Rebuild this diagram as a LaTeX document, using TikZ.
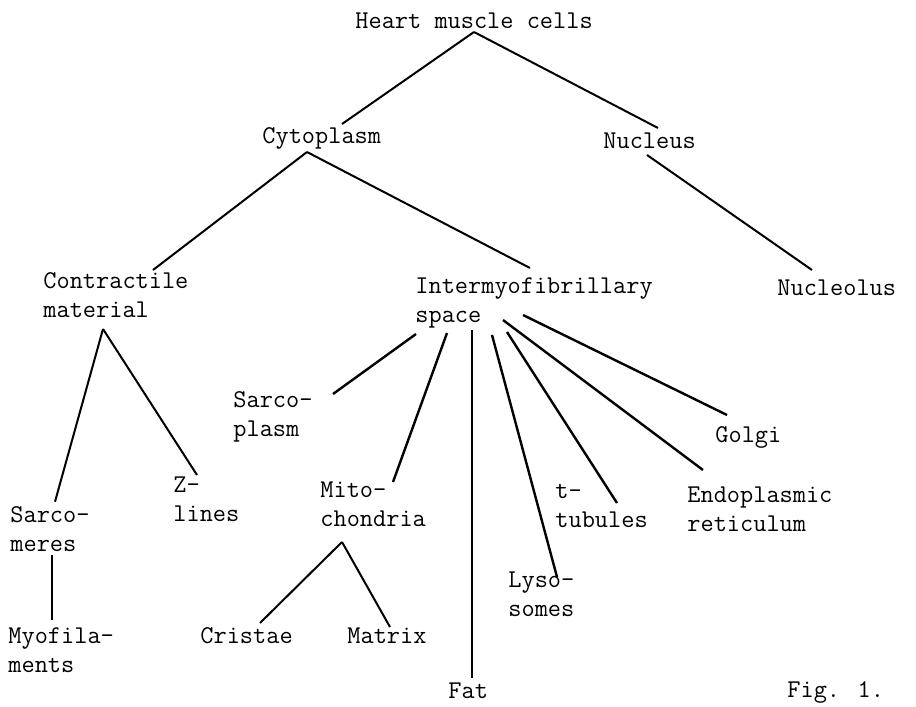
\documentclass[tikz,border=0pt]{standalone}
\usepackage{tikz}

\begin{document}
\begin{tikzpicture}[x=0.5pt,y=-0.5pt]
				\tikzstyle{t}=[anchor=north west, inner sep=0pt, align=left, yshift=10.15pt,
				  font=\fontsize{12.8}{14.5}\selectfont\ttfamily]
				\tikzstyle{e}=[line width=1pt]

				\useasboundingbox (0,0) rectangle (916,707);

				\node[t] (heart) at (355, 28) {\strut Heart muscle cells};
				\node[t] (cyto) at (262, 143) {\strut Cytoplasm};
				\node[t] (nucleus) at (603, 148) {\strut Nucleus};
				\node[t] (contr) at (43, 288) {\strut Contractile\\material};
				\node[t] (intermyo) at (415, 293) {\strut Intermyofibrillary\\space};
				\node[t] (nucleolus) at (777, 295) {\strut Nucleolus};
				\node[t] (sarcopl) at (233, 407) {\strut Sarco-\\plasm};
				\node[t] (golgi) at (715, 442) {\strut Golgi};
				\node[t] (zlines) at (173, 492) {\strut Z-\\lines};
				\node[t] (mito) at (320, 497) {\strut Mito-\\chondria};
				\node[t] (ttub) at (555, 498) {\strut t-\\tubules};
				\node[t] (endo) at (687, 502) {\strut Endoplasmic\\reticulum};
				\node[t] (sarcom) at (10, 522) {\strut Sarco-\\meres};
				\node[t] (lyso) at (508, 587) {\strut Lyso-\\somes};
				\node[t] (myofil) at (8, 643) {\strut Myofila-\\ments};
				\node[t] (cristae) at (200, 643) {\strut Cristae};
				\node[t] (matrix) at (347, 643) {\strut Matrix};
				\node[t] (fat) at (448, 698) {\strut Fat};
				\node[t] (fig) at (787, 697) {\strut Fig. 1.};

				% branches: from/dx/dy/to/dx/dy, offsets from the north west corners
				\foreach \from/\fx/\fy/\to/\tx/\ty in {
				  heart/119/24.3/cyto/80/1.3, heart/119/24.3/nucleus/55/0.3,
				  cyto/45/29.3/contr/110/2.3, cyto/45/29.3/intermyo/115/-4.7,
				  nucleus/44/27.3/nucleolus/35/-4.7,
				  contr/60/61.3/sarcom/45/0, contr/60/61.3/zlines/24/3.3,
				  sarcom/42/53.3/myofil/44/-2.7,
				  mito/22/65.3/cristae/60/0.3, mito/22/65.3/matrix/43/4.3}
				\draw[e] ([shift={(\fx,\fy)}]\from.north west) -- ([shift={(\tx,\ty)}]\to.north west);

				\foreach \fx/\fy/\to/\tx/\ty in {
				  1/61.3/sarcopl/100/7.3, 32/60.3/mito/73/5.3, 57/57.3/fat/24/0.3,
				  77/62.3/lyso/49/10.3, 92/59.3/ttub/62/25.3, 88/47.3/endo/16/-11.7,
				  108/42.3/golgi/12/-6.7}
				\draw[e, line width=1.2pt] ([shift={(\fx,\fy)}]intermyo.north west) -- ([shift={(\tx,\ty)}]\to.north west);
			\end{tikzpicture}
\end{document}
